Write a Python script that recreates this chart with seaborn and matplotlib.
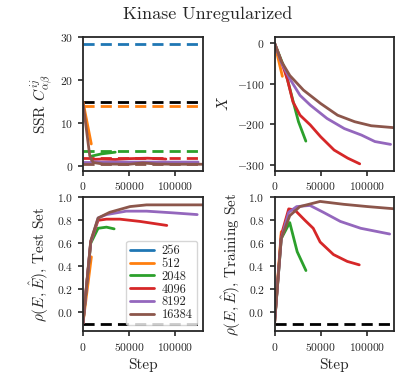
import seaborn as sns
import pandas as pd
import matplotlib
matplotlib.use("Agg")
import matplotlib.pyplot as plt

sizes = ["256", "512", "2048", "4096", "8192", "16384"]
colors = ["#1f77b4", "#ff7f0e", "#2ca02c", "#d62728", "#9467bd", "#8c564b"]

# SSR panel: dashed reference levels and solid curves
ssr_ref = [28.5, 14.0, 3.6, 1.85, 1.0, 0.55]
ssr_black = 15.0
ssr_steps = {
    "256": [0],
    "512": [0, 9000],
    "2048": [9500, 20000, 35000],
    "4096": [9000, 20000, 35000, 50000, 70000, 90000],
    "8192": [9000, 20000, 50000, 80000, 110000, 125000],
    "16384": [0, 7300, 11000, 22000, 50000, 65000, 80000, 100000, 130000],
}
ssr_vals = {
    "256": [28.5],
    "512": [15.0, 5.2],
    "2048": [2.4, 2.9, 3.3],
    "4096": [1.6, 1.7, 1.6, 1.8, 1.9, 1.7],
    "8192": [1.1, 1.0, 1.0, 1.0, 1.0, 1.0],
    "16384": [14.8, 2.5, 0.9, 0.55, 0.5, 0.8, 0.55, 0.5, 0.5],
}

# X panel
x_steps = {
    "256": [0],
    "512": [0, 8500],
    "2048": [0, 11000, 18500, 26000, 34000],
    "4096": [0, 7400, 14000, 20000, 27700, 38800, 50000, 64700, 79500, 92500],
    "8192": [0, 7400, 16600, 27700, 38800, 57000, 75800, 94400, 109000, 126000],
    "16384": [0, 7400, 16600, 31400, 50000, 68500, 87000, 105000, 131000],
}
x_vals = {
    "256": [0],
    "512": [0, -82],
    "2048": [0, -63, -129, -194, -242],
    "4096": [0, -45, -90, -145, -178, -202, -231, -264, -284, -298],
    "8192": [0, -48, -88, -129, -153, -186, -211, -227, -243, -250],
    "16384": [0, -45, -80, -116, -149, -178, -194, -204, -209],
}

# correlation on test set
test_steps = {
    "256": [0],
    "512": [0, 9100],
    "2048": [0, 8400, 16400, 25500, 33800],
    "4096": [0, 8400, 16400, 25500, 40000, 62000, 91000],
    "8192": [0, 8400, 16400, 25500, 47000, 69000, 98000, 124000],
    "16384": [0, 8400, 16400, 29000, 51000, 69000, 131000],
}
test_vals = {
    "256": [-0.1],
    "512": [-0.1, 0.48],
    "2048": [-0.1, 0.6, 0.73, 0.74, 0.725],
    "4096": [-0.1, 0.61, 0.8, 0.81, 0.81, 0.79, 0.755],
    "8192": [-0.1, 0.61, 0.82, 0.85, 0.88, 0.88, 0.865, 0.85],
    "16384": [-0.1, 0.62, 0.82, 0.87, 0.92, 0.935, 0.935],
}
test_ref = -0.105

# correlation on training set
train_steps = {
    "256": [0],
    "512": [0, 7300],
    "2048": [0, 7300, 16500, 24600, 34100],
    "4096": [0, 7300, 15400, 22000, 33000, 42000, 49500, 64000, 79000, 92000],
    "8192": [0, 7300, 15400, 24000, 38500, 53000, 71500, 93600, 125000],
    "16384": [0, 7300, 16500, 27500, 49500, 75000, 101000, 131000],
}
train_vals = {
    "256": [-0.1],
    "512": [-0.1, 0.70],
    "2048": [-0.1, 0.64, 0.78, 0.525, 0.36],
    "4096": [-0.1, 0.67, 0.9, 0.89, 0.80, 0.73, 0.61, 0.50, 0.44, 0.41],
    "8192": [-0.1, 0.64, 0.87, 0.92, 0.93, 0.87, 0.79, 0.73, 0.68],
    "16384": [-0.1, 0.64, 0.84, 0.92, 0.965, 0.94, 0.92, 0.90],
}
train_ref = -0.105

sns.set_style("ticks")
plt.rcParams["font.family"] = "serif"
plt.rcParams["font.serif"] = ["cmr10", "DejaVu Serif"]
plt.rcParams["mathtext.fontset"] = "cm"
plt.rcParams["axes.formatter.use_mathtext"] = True
plt.rcParams["axes.unicode_minus"] = True
plt.rcParams["axes.linewidth"] = 1.3
plt.rcParams["xtick.major.width"] = 1.2
plt.rcParams["ytick.major.width"] = 1.2
plt.rcParams["xtick.labelsize"] = 8.3
plt.rcParams["ytick.labelsize"] = 8.3

fig, axes = plt.subplots(2, 2, figsize=(4.15, 3.9), dpi=100)
fig.subplots_adjust(left=0.2, right=0.95, top=0.905, bottom=0.151, wspace=0.6, hspace=0.2)
ax1, ax2, ax3, ax4 = axes.flatten()
lw = 2
dash = (4, 2.2)


def draw(ax, steps, vals, legend=False):
    for s, c in zip(sizes, colors):
        d = pd.DataFrame({"Step": steps[s], "v": vals[s]})
        sns.lineplot(data=d, x="Step", y="v", color=c, lw=lw, ax=ax,
                     label=s if legend else None, legend=False)


# top left
for s, c, r in zip(sizes, colors, ssr_ref):
    ax1.axhline(r, color=c, ls="--", lw=lw, dashes=dash)
ax1.axhline(ssr_black, color="black", ls="--", lw=lw, dashes=dash)
draw(ax1, ssr_steps, ssr_vals)
ax1.set_ylim(-1, 30)
ax1.set_ylabel(r"SSR $C^{ij}_{\alpha\beta}$", fontsize=11)

# top right
draw(ax2, x_steps, x_vals)
ax2.set_ylim(-315, 15)
ax2.set_ylabel(r"$X$", fontsize=11)

# bottom left
ax3.axhline(test_ref, color="black", ls="--", lw=lw, dashes=dash)
draw(ax3, test_steps, test_vals, legend=True)
ax3.set_ylim(-0.17, 1.0)
ax3.set_ylabel(r"$\rho(E,\hat{E})$, Test Set", fontsize=11)
leg = ax3.legend(loc="lower right", fontsize=9, handlelength=1.9,
                 borderaxespad=0.45, labelspacing=0.05, borderpad=0.35,
                 handletextpad=0.6, frameon=True)
for h in leg.get_lines():
    h.set_linewidth(2)

# bottom right
ax4.axhline(train_ref, color="black", ls="--", lw=lw, dashes=dash)
draw(ax4, train_steps, train_vals)
ax4.set_ylim(-0.17, 1.0)
ax4.set_ylabel(r"$\rho(E,\hat{E})$, Training Set", fontsize=11)

for ax in [ax1, ax2, ax3, ax4]:
    ax.set_xlim(0, 130000)
    ax.set_xticks([0, 50000, 100000])
    ax.ticklabel_format(axis="x", style="plain")
    for sp in ax.spines.values():
        sp.set_visible(True)
for ax in [ax1, ax2]:
    ax.set_xlabel("")
for ax in [ax3, ax4]:
    ax.set_xlabel("Step", fontsize=11)
    ax.set_yticks([0.0, 0.2, 0.4, 0.6, 0.8, 1.0])

fig.suptitle("Kinase Unregularized", fontsize=13, y=0.985)
fig.savefig("out.png", dpi=100)
